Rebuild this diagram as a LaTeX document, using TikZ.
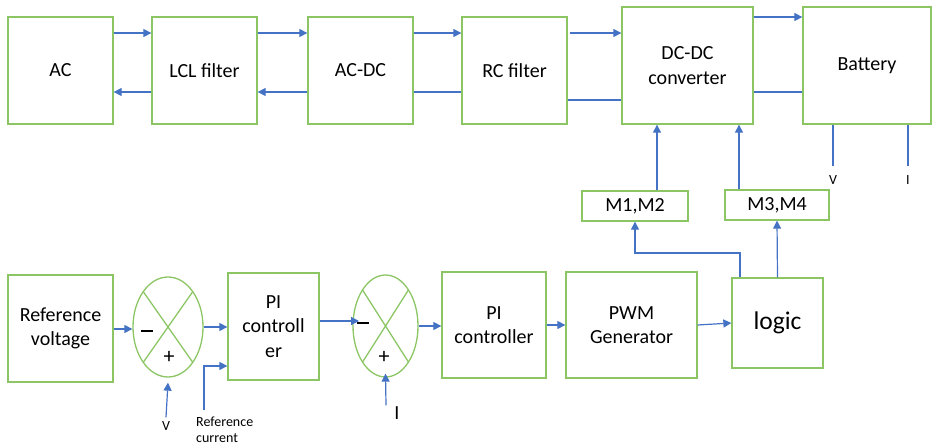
\documentclass[tikz,border=0pt]{standalone}
\usepackage{fontspec}
\setmainfont{Carlito}
\usetikzlibrary{arrows.meta,shapes.geometric}
\definecolor{boxgreen}{RGB}{140,198,100}
\definecolor{linkblue}{RGB}{68,114,196}

\begin{document}
\begin{tikzpicture}[x=1pt,y=-1pt,>={Triangle[length=8pt,width=8pt]},
  blk/.style={draw=boxgreen,line width=1.3pt,inner sep=2pt,align=center,
    font=\fontsize{20}{24.5}\selectfont},
  sumjn/.style={ellipse,draw=boxgreen,line width=1.3pt,inner sep=0pt,
    path picture={\draw[boxgreen,line width=1.3pt]
      (path picture bounding box.north west) -- (path picture bounding box.south east)
      (path picture bounding box.south west) -- (path picture bounding box.north east);}},
  arr/.style={->,linkblue,line width=1.2pt},
  wire/.style={linkblue,line width=1.2pt},
  sgn/.style={inner sep=0pt,font=\fontsize{22}{24}\selectfont},
  lbl/.style={inner sep=0pt,font=\fontsize{14}{16}\selectfont}]
  \useasboundingbox (0,0) rectangle (932,447);

  \node[blk,minimum width=105pt,minimum height=107pt] (ac) at (60.5,70.5) {AC};
  \node[blk,minimum width=105pt,minimum height=107pt] (lcl) at (204.5,70.5) {LCL filter};
  \node[blk,minimum width=105pt,minimum height=107pt] (acdc) at (360.5,70.5) {AC-DC};
  \node[blk,minimum width=105pt,minimum height=107pt] (rc) at (514.5,70.5) {RC filter};
  \node[blk,minimum width=131pt,minimum height=117pt] (dcdc) at (687.5,65.5) {DC-DC\\converter};
  \node[blk,minimum width=128pt,minimum height=117pt] (bat) at (867,65.5) {Battery};
  \node[blk,minimum width=106pt,minimum height=30pt] (m12) at (635,206) {M1,M2};
  \node[blk,minimum width=104pt,minimum height=30pt] (m34) at (777,205) {M3,M4};

  \node[blk,minimum width=105pt,minimum height=107pt] (refv) at (60.5,328.5) {Reference\\voltage};
  \node[sumjn,minimum width=70pt,minimum height=100pt] (sum1) at (168,327) {};
  \node[blk,minimum width=91pt,minimum height=107pt] (pi1) at (273.5,326.5) {PI\\controll\\er};
  \node[sumjn,minimum width=65pt,minimum height=102pt] (sum2) at (385.5,326) {};
  \node[blk,minimum width=104pt,minimum height=106pt] (pi2) at (494,325) {PI\\controller};
  \node[blk,minimum width=131pt,minimum height=106pt] (pwm) at (631.5,325) {PWM\\Generator};
  \node[blk,minimum width=91pt,minimum height=90pt,font=\fontsize{25.5}{28}\selectfont] (logic) at (777.5,323) {logic};

  \node[sgn] (minus1) at (147,331) {\rule{12pt}{1.8pt}};
  \node[sgn] (plus1) at (169,357) {+};
  \node[sgn] (minus2) at (363,323) {\rule{12pt}{1.8pt}};
  \node[sgn] (plus2) at (384,357) {+};

  \node[lbl] (vbat) at (833,180) {V};
  \node[lbl] (ibat) at (908,180) {I};
  \node[lbl] (vin) at (166,426) {V};
  \node[lbl,anchor=west,align=left] (iref) at (196,430) {Reference\\current};
  \node[inner sep=0pt,font=\fontsize{20}{24}\selectfont] (iin) at (397,413) {I};
  \coordinate (irefin) at (204,410);

  \draw[arr] (ac.east |- 0,33) -- (lcl.west |- 0,33);
  \draw[arr] (lcl.west |- 0,92) -- (ac.east |- 0,92);
  \draw[arr] (lcl.east |- 0,33) -- (acdc.west |- 0,33);
  \draw[arr] (acdc.west |- 0,92) -- (lcl.east |- 0,92);
  \draw[arr] (acdc.east |- 0,33) -- (rc.west |- 0,33);
  \draw[wire] (acdc.east |- 0,92) -- (rc.west |- 0,92);
  \draw[arr] (570,33) -- (dcdc.west |- 0,33);
  \draw[wire] (rc.east |- 0,100) -- (dcdc.west |- 0,100);
  \draw[arr] (dcdc.east |- 0,17) -- (bat.west |- 0,17);
  \draw[wire] (dcdc.east |- 0,92) -- (bat.west |- 0,92);
  \draw[wire] (bat.south -| vbat) -- ([yshift=9pt]vbat.north);
  \draw[wire] (bat.south -| ibat) -- ([yshift=9pt]ibat.north);

  \draw[arr] (m12.north -| 657,0) -- (dcdc.south -| 657,0);
  \draw[arr] (m34.north -| 739,0) -- (dcdc.south -| 739,0);
  \draw[arr] (logic.north -| 740,0) -- (740,253) -| (m12.south);
  \draw[arr] (logic.north) -- (m34.south);

  \draw[arr] (refv.east |- 0,329) -- (sum1.west |- 0,329);
  \draw[arr] (sum1.east) -- (pi1.west |- sum1.east);
  \draw[arr] (irefin) |- (pi1.west |- 0,366);
  \draw[arr] ([yshift=4pt]vin.north) -- ([yshift=-5pt]sum1.south);
  \draw[arr] (pi1.east |- 0,321) -- (359,321);
  \draw[arr] (sum2.east) -- (pi2.west |- sum2.east);
  \draw[arr] (iin.north west -| 386,0) ++(0,-1) -- ([yshift=4pt]sum2.south);
  \draw[arr] (pi2.east) -- (pwm.west);
  \draw[arr] (pwm.east) -- (logic.west);
\end{tikzpicture}
\end{document}
